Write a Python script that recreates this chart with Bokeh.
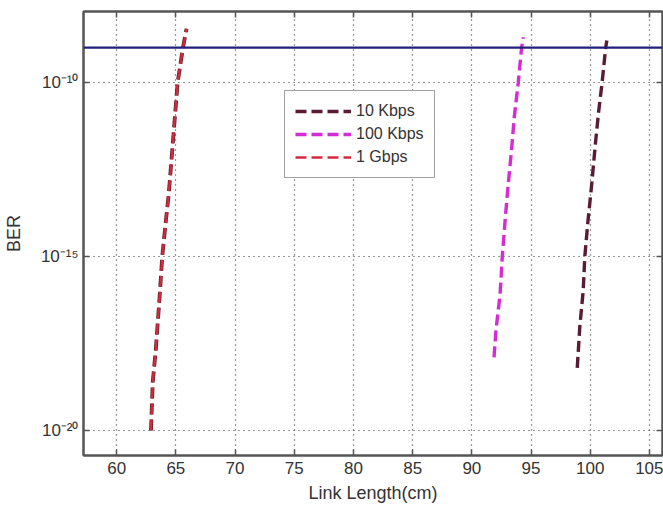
from bokeh.plotting import figure
from bokeh.models import (Range1d, FixedTicker, LinearAxis, LogAxis, Span, Legend,
                          LegendItem, CustomJSTickFormatter)
from bokeh.embed import file_html
from bokeh.resources import INLINE

# ---- data ----
x_ticks = [60, 65, 70, 75, 80, 85, 90, 95, 100, 105]
y_ticks = [1e-20, 1e-15, 1e-10]
ber_threshold = 1e-9

len_10k = [98.9, 99.12, 99.4, 99.54, 99.8, 100.1, 100.45, 100.72, 101.0, 101.3, 101.4]
ber_10k = [6.3e-19, 1e-17, 1e-16, 1e-15, 1e-14, 1e-13, 2e-12, 1.6e-11, 1e-10, 1e-9, 1.6e-9]

len_100k = [91.87, 92.04, 92.38, 92.57, 92.8, 93.05, 93.36, 93.58, 93.92, 94.2, 94.34]
ber_100k = [1.26e-18, 7.9e-18, 7.9e-17, 1e-15, 1e-14, 1e-13, 1.26e-12, 1e-11, 1e-10, 1e-9, 2e-9]

len_1g = [62.9, 63.05, 63.3, 63.6, 63.85, 64.15, 64.4, 64.8, 65.15, 65.6, 65.9]
ber_1g = [1e-20, 2.5e-19, 2e-18, 5e-17, 1e-15, 1e-14, 6.3e-14, 3.2e-12, 1e-10, 1e-9, 3.5e-9]

labels = ["10 Kbps", "100 Kbps", "1 Gbps"]
colors = ["#5a1c34", "#d22ed2", "#d42a40"]

FONT = "Liberation Sans"
AX = "#555555"

p = figure(width=663, height=508, output_backend="svg", toolbar_location=None,
           y_axis_type="log",
           x_range=Range1d(57.2, 106.1), y_range=Range1d(10**-20.72, 10**-7.96),
           min_border_left=82, min_border_right=1, min_border_top=11, min_border_bottom=53)
p.background_fill_color = "white"
p.border_fill_color = "white"
p.outline_line_color = AX
p.outline_line_width = 2

sup = "{'-':'\u207b','0':'\u2070','1':'\u00b9','2':'\u00b2','3':'\u00b3','4':'\u2074','5':'\u2075','6':'\u2076','7':'\u2077','8':'\u2078','9':'\u2079'}"
yfmt = CustomJSTickFormatter(code="""
const m = %s;
const e = String(Math.round(Math.log10(tick)));
return '10' + e.split('').map(c => m[c]).join('');
""" % sup)
blank = CustomJSTickFormatter(code="return '';")

xa = p.xaxis[0]
xa.ticker = FixedTicker(ticks=x_ticks)
ya = p.yaxis[0]
ya.ticker = FixedTicker(ticks=y_ticks)
ya.formatter = yfmt

for ax in (xa, ya):
    ax.axis_line_color = AX
    ax.axis_line_width = 2
    ax.major_tick_line_color = AX
    ax.major_tick_line_width = 1.5
    ax.major_tick_in = 6
    ax.major_tick_out = 0
    ax.minor_tick_line_color = None
    ax.major_label_text_font = FONT
    ax.major_label_text_font_size = "17px"
    ax.major_label_text_color = "#333333"
    ax.axis_label_text_font = FONT
    ax.axis_label_text_font_style = "normal"
    ax.axis_label_text_color = "#333333"
    ax.axis_label_text_font_size = "18px"

xa.axis_label = "Link Length(cm)"
xa.major_label_standoff = 6
xa.axis_label_standoff = 6
ya.axis_label = "BER"
ya.major_label_standoff = 5
ya.axis_label_standoff = 14

top = LinearAxis(ticker=FixedTicker(ticks=x_ticks), formatter=blank)
right = LogAxis(ticker=FixedTicker(ticks=y_ticks), formatter=blank)
for ax in (top, right):
    ax.axis_line_color = AX
    ax.axis_line_width = 2
    ax.major_tick_line_color = AX
    ax.major_tick_line_width = 1.5
    ax.major_tick_in = 6
    ax.major_tick_out = 0
    ax.minor_tick_line_color = None
    ax.major_label_standoff = 0
p.add_layout(top, "above")
p.add_layout(right, "right")

for g in (p.xgrid[0], p.ygrid[0]):
    g.grid_line_color = "#333333"
    g.grid_line_dash = "1 4"
    g.grid_line_width = 1.2

p.add_layout(Span(location=ber_threshold, dimension="width",
                  line_color="#20207a", line_width=2.2))

dash = "11 5"
series = [(len_10k, ber_10k), (len_100k, ber_100k), (len_1g, ber_1g)]
items = []
for i, ((xs, ys), lab, col) in enumerate(zip(series, labels, colors)):
    if i == 2:
        p.line(xs, ys, line_color="#5a1e28", line_width=3.8, line_dash=dash)
        r = p.line(xs, ys, line_color=col, line_width=2.4, line_dash=dash)
    else:
        r = p.line(xs, ys, line_color=col, line_width=3.4, line_dash=dash)
    items.append(LegendItem(label=lab, renderers=[r]))

legend = Legend(items=items, location=(201, 277))
legend.border_line_color = "#444444"
legend.border_line_width = 1.2
legend.background_fill_color = "white"
legend.background_fill_alpha = 1
legend.label_text_font = FONT
legend.label_text_font_size = "16px"
legend.label_text_color = "#333333"
legend.glyph_width = 56
legend.glyph_height = 20
legend.label_height = 20
legend.label_standoff = 5
legend.padding = 10
legend.spacing = 3
legend.margin = 0
p.add_layout(legend)

open("out.html", "w").write(file_html(p, INLINE))
